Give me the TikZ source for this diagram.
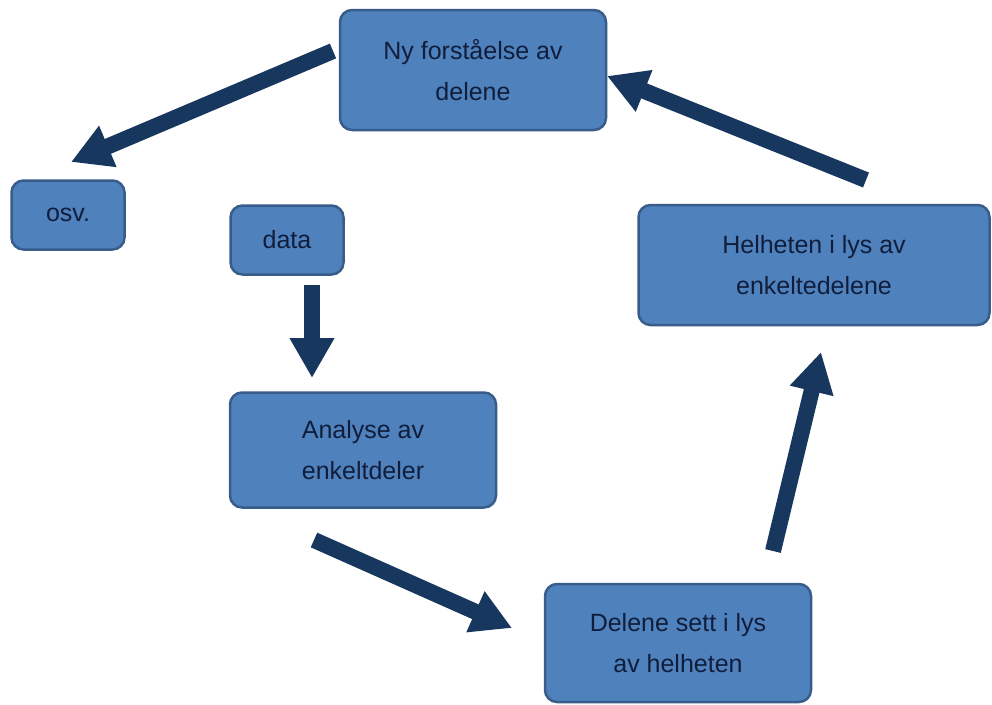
\documentclass[tikz,border=0pt]{standalone}
\usepackage{fontspec}
\setmainfont{Liberation Sans}
\usetikzlibrary{arrows.meta}
\definecolor{boxfill}{RGB}{79,129,189}
\definecolor{boxline}{RGB}{56,93,138}
\definecolor{boxtext}{RGB}{16,30,60}
\definecolor{flow}{RGB}{23,55,94}
\tikzset{
  stepbox/.style={draw=boxline, line width=2.5pt, fill=boxfill, rounded corners=12pt,
    inner sep=0pt, align=center, text=boxtext, font=\fontsize{25}{41}\selectfont},
  flowarrow/.style={draw=flow, line width=16pt, line cap=butt,
    -{Triangle[width=42pt,length=40pt]}}
}
\begin{document}
\begin{tikzpicture}[x=1pt,y=-1pt]
\useasboundingbox (0,0) rectangle (992,704);
\fill[white] (0,0) rectangle (992,704);

% boxes of the cycle
\node[stepbox, minimum width=266pt, minimum height=120pt] (ny)      at (473,70)  {Ny forståelse av\\delene};
\node[stepbox, minimum width=113pt, minimum height=69pt]  (osv)     at (68,215)  {osv.};
\node[stepbox, minimum width=113pt, minimum height=69pt]  (data)    at (287,240) {data};
\node[stepbox, minimum width=266pt, minimum height=115pt] (analyse) at (363,450) {Analyse av\\enkeltdeler};
\node[stepbox, minimum width=266pt, minimum height=118pt] (delene)  at (678,643) {Delene sett i lys\\av helheten};
\node[stepbox, minimum width=351pt, minimum height=120pt] (helhet)  at (814,265) {Helheten i lys av\\enkeltedelene};

% arrow ends
\coordinate (a1s) at (333,51);  \coordinate (a1e) at (71,162);
\coordinate (a2s) at (312,285); \coordinate (a2e) at (312,378);
\coordinate (a3s) at (314,540); \coordinate (a3e) at (512,628);
\coordinate (a4s) at (773,551); \coordinate (a4e) at (821,352);
\coordinate (a5s) at (866,180); \coordinate (a5e) at (607,76);

\draw[flowarrow] (a1s) -- (a1e);
\draw[flowarrow] (a2s) -- (a2e);
\draw[flowarrow] (a3s) -- (a3e);
\draw[flowarrow] (a4s) -- (a4e);
\draw[flowarrow] (a5s) -- (a5e);
\end{tikzpicture}
\end{document}
